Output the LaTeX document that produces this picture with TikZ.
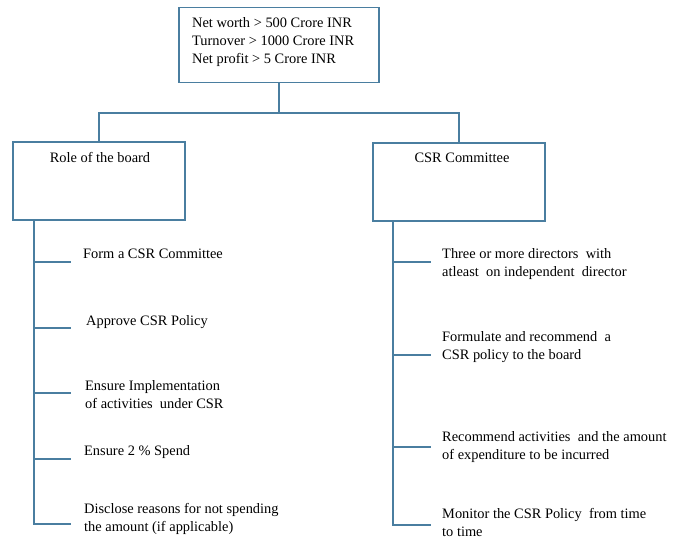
\documentclass[tikz,border=0pt]{standalone}
\usepackage{fontspec}
\setmainfont{Liberation Serif}
\usetikzlibrary{calc}
\definecolor{ln}{RGB}{74,126,160}
\begin{document}
\begin{tikzpicture}[x=1pt,y=-1pt,
  box/.style={draw=ln,line width=1.3pt,rectangle,inner sep=0pt},
  txt/.style={anchor=west,align=left,inner sep=0pt,font=\fontsize{14.4}{18}\selectfont,text=black},
  conn/.style={draw=ln,line width=1.3pt}]
\useasboundingbox (0,0) rectangle (681,540);
% boxes
\node[box,minimum width=200pt,minimum height=75pt] (top) at (279,45) {};
\node[box,minimum width=172pt,minimum height=78pt] (role) at (99,181) {};
\node[box,minimum width=172pt,minimum height=78pt] (csr) at (459,182) {};
% box texts
\node[txt] (toptext) at (192,42) {Net worth > 500 Crore INR\\Turnover > 1000 Crore INR\\Net profit > 5 Crore INR};
\node[txt,anchor=center] (roletext) at (100,158) {Role of the board};
\node[txt,anchor=center] (csrtext) at (462,158) {CSR Committee};
% top connectors
\coordinate (j) at (279,113);
\draw[conn] (top.south) -- (j);
\draw[conn] (role.north) |- (j) -| (csr.north);
% left list
\coordinate (ls) at (34,220);
\coordinate (le) at (34,525);
\draw[conn] (ls) -- (le);
\foreach \y/\n in {262/a,328/b,393/c,459/d,524/e}{
  \coordinate (la\n) at (34,\y);
  \coordinate (lb\n) at (71,\y);
  \draw[conn] (la\n) -- (lb\n);
}
\node[txt] (l1) at (83,254) {Form a CSR Committee};
\node[txt] (l2) at (86,322) {Approve CSR Policy};
\node[txt] (l3) at (85,395) {Ensure Implementation\\of activities\ \ under CSR};
\node[txt] (l4) at (84,452) {Ensure 2 \% Spend};
\node[txt] (l5) at (84,519) {Disclose reasons for not spending\\the amount (if applicable)};
% right list
\coordinate (rs) at (393,221);
\coordinate (re) at (393,526);
\draw[conn] (rs) -- (re);
\foreach \y/\n in {262/a,355/b,447/c,525/d}{
  \coordinate (ra\n) at (393,\y);
  \coordinate (rb\n) at (431,\y);
  \draw[conn] (ra\n) -- (rb\n);
}
\node[txt] (r1) at (442,264) {Three or more directors\ \ with\\atleast\ \ on independent\ \ director};
\node[txt] (r2) at (442,347) {Formulate and recommend\ \ a\\CSR policy to the board};
\node[txt] (r3) at (442,447) {Recommend activities\ \ and the amount\\of expenditure to be incurred};
\node[txt] (r4) at (442,522) {Monitor the CSR Policy\ \ from time\\to time};
\end{tikzpicture}
\end{document}
